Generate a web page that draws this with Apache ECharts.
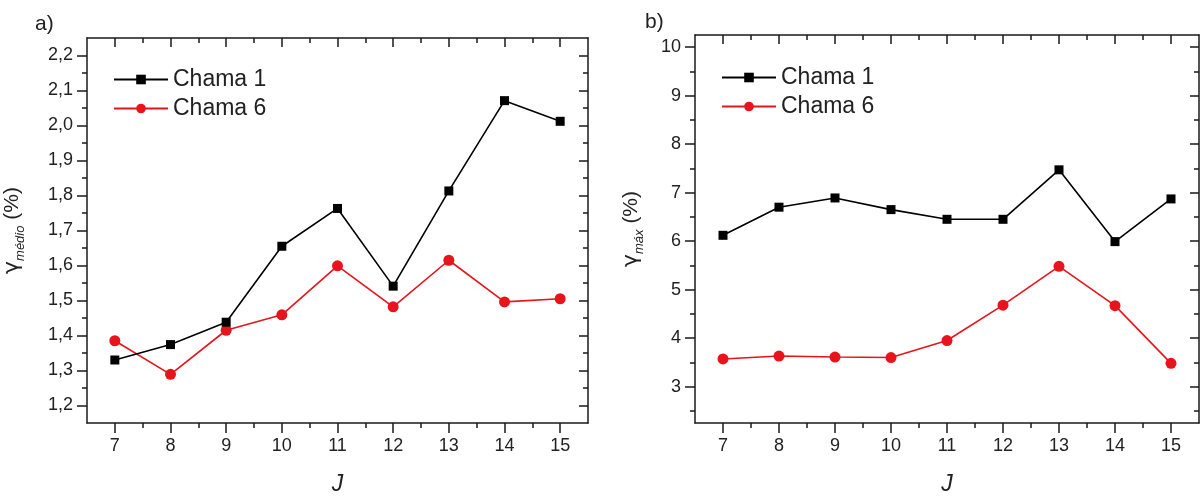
<!DOCTYPE html>
<html>
<head>
<meta charset="utf-8">
<script src="https://cdn.jsdelivr.net/npm/echarts@6/dist/echarts.min.js"></script>
<style>
  html, body { margin: 0; padding: 0; background: #fff; }
  #chart { width: 1202px; height: 501px; }
</style>
</head>
<body>
<div id="chart"></div>
<script>
const jValues = [7, 8, 9, 10, 11, 12, 13, 14, 15];
const jMinor = [7.5, 8.5, 9.5, 10.5, 11.5, 12.5, 13.5, 14.5];

const medioChama1 = [1.330, 1.374, 1.438, 1.655, 1.763, 1.541, 1.813, 2.071, 2.012];
const medioChama6 = [1.385, 1.289, 1.415, 1.459, 1.599, 1.482, 1.615, 1.496, 1.505];
const maxChama1 = [6.12, 6.70, 6.89, 6.65, 6.45, 6.45, 7.47, 5.99, 6.87];
const maxChama6 = [3.57, 3.63, 3.61, 3.60, 3.95, 4.68, 5.48, 4.67, 3.48];

const medioTicks = [1.2, 1.3, 1.4, 1.5, 1.6, 1.7, 1.8, 1.9, 2.0, 2.1, 2.2];
const medioMinor = [1.25, 1.35, 1.45, 1.55, 1.65, 1.75, 1.85, 1.95, 2.05, 2.15];
const maxTicks = [3, 4, 5, 6, 7, 8, 9, 10];
const maxMinor = [2.5, 3.5, 4.5, 5.5, 6.5, 7.5, 8.5, 9.5];

const font = "'Liberation Sans', Arial, sans-serif";
const ink = "#1a1a1a";
const red = "#e8141b";

const chart = echarts.init(document.getElementById("chart"));

function tickAxis(grid, position, min, max, values, opts) {
  return Object.assign({
    type: "value",
    gridIndex: grid,
    position: position,
    min: min,
    max: max,
    splitLine: { show: false },
    axisLine: { show: false, onZero: false },
    axisTick: { show: true, inside: opts.inside, length: opts.length, customValues: values, lineStyle: { color: ink, width: 1.5 } },
    axisLabel: { show: false }
  }, opts.extra || {});
}

function xAxes(grid) {
  return [
    tickAxis(grid, "bottom", 6.5, 15.5, jValues, {
      inside: false, length: 10,
      extra: {
        axisLine: { show: true, onZero: false, lineStyle: { color: ink, width: 1.5 } },
        axisLabel: { show: true, customValues: jValues, margin: 14, fontSize: 18, color: "#222", fontFamily: font },
        name: "J",
        nameLocation: "middle",
        nameGap: 50,
        nameTextStyle: { fontSize: 23, fontStyle: "italic", color: "#222", fontFamily: font }
      }
    }),
    tickAxis(grid, "bottom", 6.5, 15.5, jMinor, { inside: false, length: 5 }),
    tickAxis(grid, "top", 6.5, 15.5, jValues, {
      inside: true, length: 9,
      extra: { axisLine: { show: true, onZero: false, lineStyle: { color: ink, width: 1.5 } } }
    }),
    tickAxis(grid, "top", 6.5, 15.5, jMinor, { inside: true, length: 5 })
  ];
}

function yAxes(grid, min, max, major, minor, fmt, name, gap) {
  return [
    tickAxis(grid, "left", min, max, major, {
      inside: false, length: 10,
      extra: {
        axisLine: { show: true, onZero: false, lineStyle: { color: ink, width: 1.5 } },
        axisLabel: { show: true, customValues: major, margin: 14, fontSize: 18, color: "#222", fontFamily: font, formatter: fmt },
        name: name,
        nameLocation: "middle",
        nameRotate: 90,
        nameGap: gap,
        nameTextStyle: {
          color: "#222",
          fontFamily: font,
          rich: {
            g: { fontSize: 22, fontFamily: "'DejaVu Sans', sans-serif", color: "#222", verticalAlign: "bottom", lineHeight: 24 },
            s: { fontSize: 13, fontStyle: "italic", fontFamily: font, color: "#222", verticalAlign: "bottom", lineHeight: 14, padding: [0, 0, -4, 0] },
            p: { fontSize: 21, fontFamily: font, color: "#222", verticalAlign: "bottom", lineHeight: 24 }
          }
        }
      }
    }),
    tickAxis(grid, "left", min, max, minor, { inside: false, length: 5 }),
    tickAxis(grid, "right", min, max, major, {
      inside: true, length: 9,
      extra: { axisLine: { show: true, onZero: false, lineStyle: { color: ink, width: 1.5 } } }
    }),
    tickAxis(grid, "right", min, max, minor, { inside: true, length: 5 })
  ];
}

const commaFmt = v => v.toFixed(1).replace(".", ",");
const intFmt = v => String(Math.round(v));

function pairs(values) {
  return jValues.map((j, i) => [j, values[i]]);
}

function series(name, values, xIdx, yIdx, isRed) {
  return {
    name: name,
    type: "line",
    xAxisIndex: xIdx,
    yAxisIndex: yIdx,
    data: pairs(values),
    symbol: isRed ? "circle" : "rect",
    symbolSize: isRed ? 11 : 9,
    lineStyle: { color: isRed ? red : "#000", width: 1.6 },
    itemStyle: { color: isRed ? red : "#000" },
    z: isRed ? 3 : 4,
    animation: false
  };
}

function legend(left, top) {
  return {
    left: left,
    top: top,
    orient: "vertical",
    itemGap: 6,
    itemWidth: 54,
    itemHeight: 12,
    data: ["Chama 1", "Chama 6"],
    textStyle: { fontSize: 23, color: "#222", fontFamily: font }
  };
}

chart.setOption({
  animation: false,
  backgroundColor: "#fff",
  grid: [
    { left: 87, top: 38, width: 501, height: 395 },
    { left: 695, top: 35, width: 504, height: 398 }
  ],
  legend: [legend(108, 63), legend(716, 61)],
  xAxis: xAxes(0).concat(xAxes(1)),
  yAxis: yAxes(0, 1.15, 2.25, medioTicks, medioMinor, commaFmt, "{g|γ}{s|médio}{p| (%)}", 64)
    .concat(yAxes(1, 2.25, 10.25, maxTicks, maxMinor, intFmt, "{g|γ}{s|máx}{p| (%)}", 53)),
  graphic: [
    { type: "text", left: 35, top: 14, style: { text: "a)", fontSize: 21, fill: "#222", fontFamily: font } },
    { type: "text", left: 645, top: 12, style: { text: "b)", fontSize: 21, fill: "#222", fontFamily: font } }
  ],
  series: [
    series("Chama 1", medioChama1, 0, 0, false),
    series("Chama 6", medioChama6, 0, 0, true),
    series("Chama 1", maxChama1, 4, 4, false),
    series("Chama 6", maxChama6, 4, 4, true)
  ]
});
</script>
</body>
</html>
